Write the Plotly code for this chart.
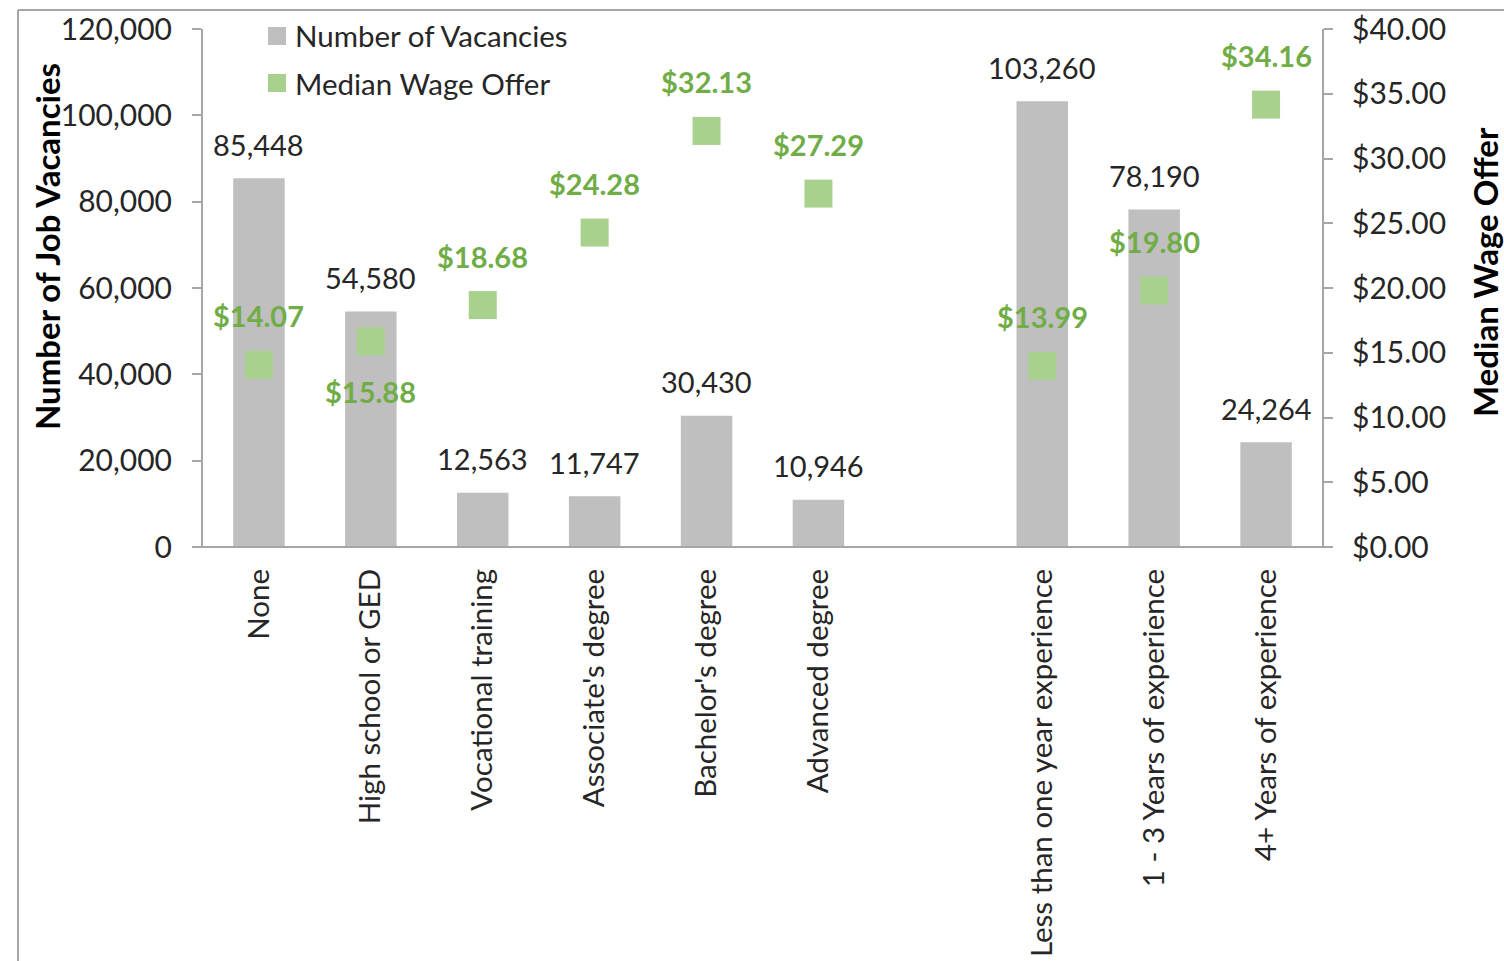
import plotly.graph_objects as go

categories = ["None", "High school or GED", "Vocational training", "Associate's degree",
              "Bachelor's degree", "Advanced degree", " ",
              "Less than one year experience", "1 - 3 Years of experience", "4+ Years of experience"]
vacancies = [85448, 54580, 12563, 11747, 30430, 10946, None, 103260, 78190, 24264]
wages = [14.07, 15.88, 18.68, 24.28, 32.13, 27.29, None, 13.99, 19.80, 34.16]
wage_label_below = [False, True, False, False, False, False, False, False, False, False]
legend_names = ["Number of Vacancies", "Median Wage Offer"]

FONT = "Lato"
GRAY_BAR = "#BFBFBF"
GREEN_MK = "#A9D18E"
GREEN_TX = "#70AD47"
AXIS_C = "#A6A6A6"
TXT = "#262626"

# plot area in page pixels
PL, PR, PT, PB = 203, 1322, 29, 547
W, H = 1504, 961


def px_x(p):
    return (p - PL) / (PR - PL)


def px_y(p):
    return (PB - p) / (PB - PT)


fig = go.Figure()
fig.add_trace(go.Bar(x=categories, y=vacancies, name=legend_names[0],
                     marker=dict(color=GRAY_BAR, line=dict(width=0)), showlegend=False))
fig.add_trace(go.Scatter(x=categories, y=wages, name=legend_names[1], yaxis="y2",
                         mode="markers", marker=dict(symbol="square", size=28, color=GREEN_MK),
                         showlegend=False, cliponaxis=False))

annotations = []
for c, v in zip(categories, vacancies):
    if v is None:
        continue
    annotations.append(dict(x=c, y=v, xref="x", yref="y", text=f"{v:,}", showarrow=False,
                            yshift=34, font=dict(family=FONT, size=29, color=TXT)))
for c, w, below in zip(categories, wages, wage_label_below):
    if w is None:
        continue
    annotations.append(dict(x=c, y=w, xref="x", yref="y2", text=f"<b>${w:.2f}</b>", showarrow=False,
                            yshift=-50 if below else 49, font=dict(family=FONT, size=29, color=GREEN_TX)))

# axis titles
annotations.append(dict(x=px_x(47), y=px_y(247), xref="paper", yref="paper", xanchor="center", yanchor="middle",
                        text="<b>Number of Job Vacancies</b>", textangle=-90, showarrow=False,
                        font=dict(family=FONT, size=33, color="#000000")))
annotations.append(dict(x=px_x(1485), y=px_y(272), xref="paper", yref="paper", xanchor="center", yanchor="middle",
                        text="<b>Median Wage Offer</b>", textangle=-90, showarrow=False,
                        font=dict(family=FONT, size=33, color="#000000")))

# manual legend
leg_rows = [(36, GRAY_BAR), (83, GREEN_MK)]
shapes = []
for name, (cy, col) in zip(legend_names, leg_rows):
    shapes.append(dict(type="rect", xref="paper", yref="paper",
                       x0=px_x(268), x1=px_x(286), y0=px_y(cy + 9), y1=px_y(cy - 9),
                       fillcolor=col, line=dict(width=0)))
    annotations.append(dict(x=px_x(293), y=px_y(cy), xref="paper", yref="paper", xanchor="left",
                            yanchor="middle", text=name, showarrow=False,
                            font=dict(family=FONT, size=29.5, color=TXT)))

shapes += [
    # category axis line, extending slightly beyond the value axes
    dict(type="line", xref="paper", yref="paper", x0=px_x(193), x1=px_x(1332), y0=0, y1=0,
         line=dict(color=AXIS_C, width=2)),
    # outer chart frame (partially visible)
    dict(type="line", xref="paper", yref="paper", x0=px_x(18), x1=px_x(1600), y0=px_y(10), y1=px_y(10),
         line=dict(color=AXIS_C, width=2)),
    dict(type="line", xref="paper", yref="paper", x0=px_x(18), x1=px_x(18), y0=px_y(10), y1=px_y(1100),
         line=dict(color=AXIS_C, width=2)),
]

fig.update_layout(
    width=W, height=H,
    margin=dict(l=PL, r=W - PR, t=PT, b=H - PB, autoexpand=False),
    paper_bgcolor="white", plot_bgcolor="white",
    font=dict(family=FONT, size=30, color=TXT),
    bargap=0.54,
    showlegend=False,
    xaxis=dict(type="category", categoryorder="array", categoryarray=categories,
               range=[-0.5, len(categories) - 0.5],
               tickangle=-90, showline=False, ticks="", showgrid=False, zeroline=False,
               ticklabelstandoff=15,
               tickfont=dict(family=FONT, size=29.5, color=TXT)),
    yaxis=dict(range=[0, 120000], dtick=20000, tickformat=",", showgrid=False, zeroline=False,
               showline=True, linecolor=AXIS_C, linewidth=2, ticks="outside", ticklen=9,
               tickcolor=AXIS_C, tickwidth=2, ticklabelstandoff=14,
               tickfont=dict(family=FONT, size=30, color=TXT)),
    yaxis2=dict(range=[0, 40], dtick=5, tickformat=".2f", tickprefix="$", overlaying="y", side="right",
                showgrid=False, zeroline=False, showline=True, linecolor=AXIS_C, linewidth=2,
                ticks="outside", ticklen=9, tickcolor=AXIS_C, tickwidth=2, ticklabelstandoff=13,
                tickfont=dict(family=FONT, size=30, color=TXT)),
    annotations=annotations,
    shapes=shapes,
)

fig.write_html("out.html", config={"displayModeBar": False},
               post_script="document.body.style.margin='0px';document.body.style.overflow='hidden';")
